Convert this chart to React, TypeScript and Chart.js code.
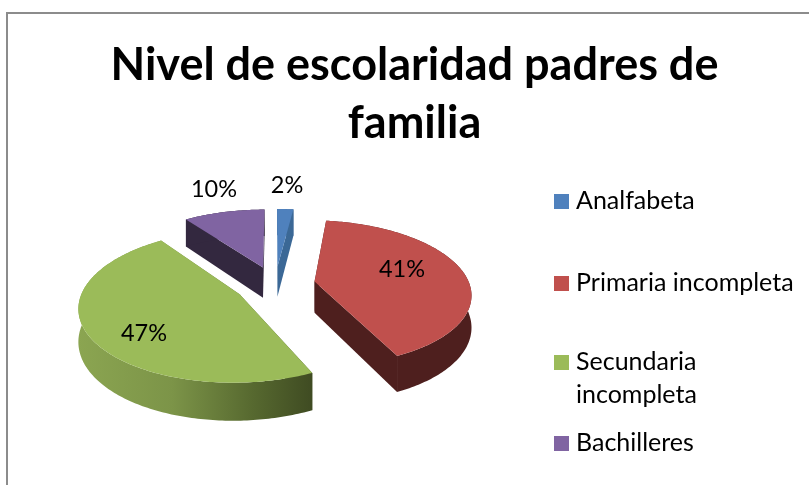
import React, { useEffect, useRef } from "react";
import { Chart, registerables } from "chart.js";

Chart.register(...registerables);

const categories = ["Analfabeta", "Primaria incompleta", "Secundaria incompleta", "Bachilleres"];
const legendLines = [["Analfabeta"], ["Primaria incompleta"], ["Secundaria", "incompleta"], ["Bachilleres"]];
const percentages = [2, 41, 47, 10];
const titleLines = ["Nivel de escolaridad padres de", "familia"];
const topColors = ["#4f81bd", "#c0504d", "#9bbb59", "#8064a2"];
const sideColors = ["#3b6896", "#4e1f1e", "#5f7236", "#33283f"];

const FONT = "Lato, Carlito, 'Open Sans', sans-serif";
const VIEW = { cx: 275, cy: 284.5, rx: 155, ry: 71.6, persp: 0.154, depth: 31.4 };
const EXPLODE = 0.26;
const labelAt = [[287, 185], [402, 269], [144, 333], [214, 189]];
const legendAt = [[201], [283], [362, 395], [443]];
const LEGEND_X = 554;

function project(u: number, v: number, down: boolean) {
  const w = 1 - VIEW.persp * v;
  return {
    x: VIEW.cx + (VIEW.rx * u) / w,
    y: VIEW.cy + (VIEW.ry * v) / w + (down ? VIEW.depth / w : 0),
  };
}

function fillPoly(ctx: CanvasRenderingContext2D, pts: { x: number; y: number }[], fill: any) {
  ctx.beginPath();
  pts.forEach((p, i) => (i ? ctx.lineTo(p.x, p.y) : ctx.moveTo(p.x, p.y)));
  ctx.closePath();
  ctx.fillStyle = fill;
  ctx.fill();
}

const pie3d = {
  id: "pie3d",
  beforeDraw(chart: any) {
    const { ctx } = chart;
    ctx.save();
    ctx.strokeStyle = "#8c8c8c";
    ctx.lineWidth = 2;
    ctx.strokeRect(7, 13, 900, 600);
    ctx.restore();
  },
  beforeDatasetDraw(chart: any) {
    const { ctx } = chart;
    const arcs = chart.getDatasetMeta(0).data;
    const order = arcs.map((_: any, i: number) => i).sort((a: number, b: number) => {
      const midV = (k: number) => Math.sin((arcs[k].startAngle + arcs[k].endAngle) / 2);
      return midV(a) - midV(b);
    });
    ctx.save();
    order.forEach((i: number) => {
      const el = arcs[i];
      const { startAngle, endAngle } = el;
      const mid = (startAngle + endAngle) / 2;
      const ou = Math.cos(mid) * EXPLODE;
      const ov = Math.sin(mid) * EXPLODE;
      const steps = Math.max(4, Math.ceil((endAngle - startAngle) * 60));
      const rim: [number, number][] = [];
      for (let s = 0; s <= steps; s++) {
        const a = startAngle + ((endAngle - startAngle) * s) / steps;
        rim.push([ou + Math.cos(a), ov + Math.sin(a)]);
      }
      let side: any = sideColors[i];
      if (i === 2) {
        const g = ctx.createLinearGradient(78, 0, 313, 0);
        g.addColorStop(0, "#8ba551");
        g.addColorStop(0.4, "#7c9448");
        g.addColorStop(0.75, "#56682f");
        g.addColorStop(1, "#3f4b22");
        side = g;
      }
      const wall = (pts: [number, number][]) =>
        fillPoly(
          ctx,
          [...pts.map(([u, v]) => project(u, v, false)), ...[...pts].reverse().map(([u, v]) => project(u, v, true))],
          side
        );
      wall([[ou, ov], rim[0]]);
      wall([[ou, ov], rim[rim.length - 1]]);
      wall(rim);
      fillPoly(ctx, [project(ou, ov, false), ...rim.map(([u, v]) => project(u, v, false))], topColors[i]);
    });
    ctx.restore();
    return false;
  },
  afterDraw(chart: any) {
    const { ctx } = chart;
    const values = chart.data.datasets[0].data;
    ctx.save();
    ctx.fillStyle = "#000";
    ctx.textBaseline = "middle";
    ctx.font = `23.5px ${FONT}`;
    ctx.textAlign = "center";
    values.forEach((v: number, i: number) => ctx.fillText(`${v}%`, labelAt[i][0], labelAt[i][1]));
    ctx.font = `25px ${FONT}`;
    ctx.textAlign = "left";
    legendLines.forEach((lines, i) => {
      ctx.fillStyle = topColors[i];
      ctx.fillRect(LEGEND_X, legendAt[i][0] - 7, 15, 15);
      ctx.fillStyle = "#000";
      lines.forEach((t, k) => ctx.fillText(t, LEGEND_X + 22, legendAt[i][k]));
    });
    ctx.restore();
  },
};

export default function App() {
  const ref = useRef<HTMLCanvasElement>(null);
  useEffect(() => {
    const chart = new Chart(ref.current!, {
      type: "pie",
      data: {
        labels: categories,
        datasets: [{ data: percentages, backgroundColor: topColors, borderWidth: 0, hoverOffset: 0 }],
      },
      options: {
        animation: false,
        responsive: false,
        events: [],
        plugins: {
          legend: { display: false },
          tooltip: { enabled: false },
          title: {
            display: true,
            text: titleLines,
            color: "#000",
            font: { family: FONT, size: 45, weight: "bold", lineHeight: 58 / 45 },
            padding: { top: 36, bottom: 0 },
          },
        },
      },
      plugins: [pie3d],
    } as any);
    return () => chart.destroy();
  }, []);
  return (
    <div style={{ position: "fixed", inset: 0, overflow: "hidden", background: "#fff" }}>
      <canvas ref={ref} width={829} height={485} style={{ display: "block" }} />
    </div>
  );
}
